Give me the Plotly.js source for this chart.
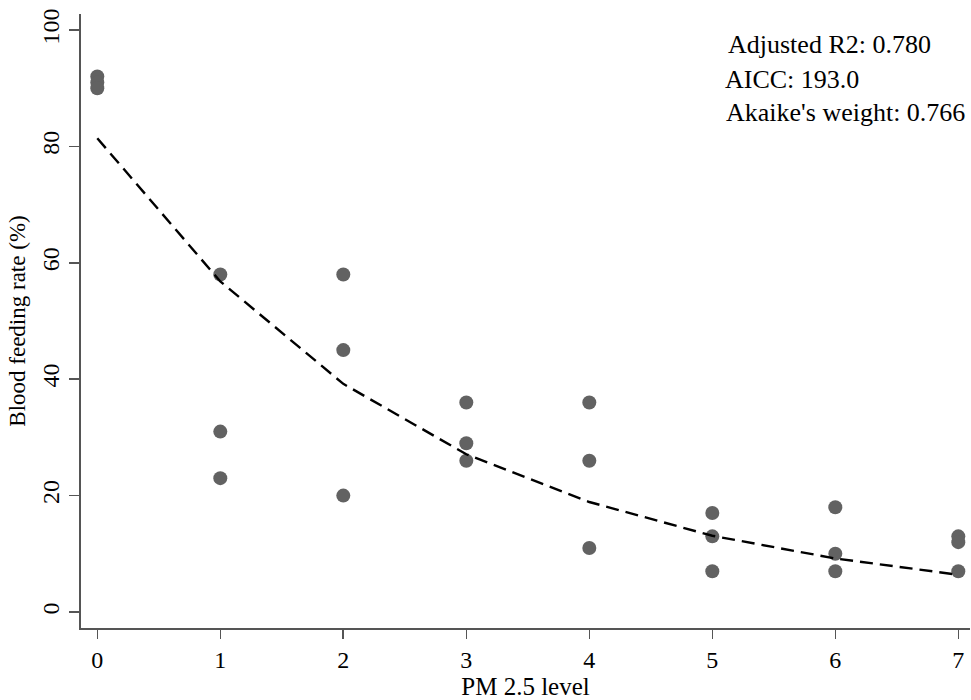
<!DOCTYPE html>
<html>
<head>
<meta charset="utf-8">
<script src="https://cdn.plot.ly/plotly-3.0.1.min.js"></script>
<style>
  html, body { margin: 0; padding: 0; background: #ffffff; }
  #chart { width: 971px; height: 700px; }
</style>
</head>
<body>
<div id="chart"></div>
<script>
// Observed data (PM 2.5 level vs blood feeding rate)
const pmLevel = [0,0,0, 1,1,1, 2,2,2, 3,3,3, 4,4,4, 5,5,5, 6,6,6, 7,7,7];
const feedingRate = [92,91,90, 58,31,23, 58,45,20, 36,29,26, 36,26,11, 17,13,7, 18,10,7, 13,12,7];

// Fitted curve (read at each level)
const fitLevel = [0,1,2,3,4,5,6,7];
const fitRate = [81.4,56.8,39.2,27.1,18.9,13.1,9.2,6.4];

// Texts
const statLines = ["Adjusted R2: 0.780", "AICC: 193.0", "Akaike's weight: 0.766"];
const xTitle = "PM 2.5 level";
const yTitle = "Blood feeding rate (%)";
const xTicks = [0,1,2,3,4,5,6,7];
const yTicks = [0,20,40,60,80,100];

const serif = "Liberation Serif, Times New Roman, serif";

const traces = [
  {
    x: pmLevel, y: feedingRate,
    type: "scatter", mode: "markers",
    marker: { color: "#626262", size: 14 },
    showlegend: false, hoverinfo: "x+y"
  },
  {
    x: fitLevel, y: fitRate,
    type: "scatter", mode: "lines",
    line: { color: "#000000", width: 2.4, dash: "13px,7px" },
    showlegend: false, hoverinfo: "x+y"
  }
];

const statY = [0.951, 0.894, 0.839];
const statX = [0.725, 0.722, 0.723];
const annotations = statLines.map((t, i) => ({
  xref: "paper", yref: "paper",
  x: statX[i], y: statY[i],
  xanchor: "left", yanchor: "middle",
  text: t, showarrow: false,
  font: { family: serif, size: 26, color: "#000000" }
}));

const layout = {
  width: 971, height: 700,
  paper_bgcolor: "#ffffff", plot_bgcolor: "#ffffff",
  margin: { l: 81, r: 1, t: 14, b: 72 },
  font: { family: serif, color: "#000000" },
  showlegend: false,
  xaxis: {
    range: [-0.1325, 7.095],
    tickvals: xTicks, ticktext: xTicks.map(String),
    showgrid: false, zeroline: false,
    showline: true, linecolor: "#555555", linewidth: 2,
    ticks: "outside", ticklen: 9, tickwidth: 1.6, tickcolor: "#555555",
    tickfont: { family: serif, size: 24, color: "#000000" },
    title: { text: xTitle, font: { family: serif, size: 25, color: "#000000" }, standoff: 8 },
    automargin: false
  },
  yaxis: {
    range: [-2.75, 102.75],
    tickvals: yTicks, ticktext: yTicks.map(String),
    tickangle: -90,
    showgrid: false, zeroline: false,
    showline: true, linecolor: "#555555", linewidth: 2,
    ticks: "outside", ticklen: 10, tickwidth: 1.6, tickcolor: "#555555",
    tickfont: { family: serif, size: 24, color: "#000000" },
    title: { text: yTitle, font: { family: serif, size: 23, color: "#000000" }, standoff: 6 },
    automargin: false
  },
  annotations: annotations
};

Plotly.newPlot("chart", traces, layout, { staticPlot: true, displayModeBar: false });
</script>
</body>
</html>
